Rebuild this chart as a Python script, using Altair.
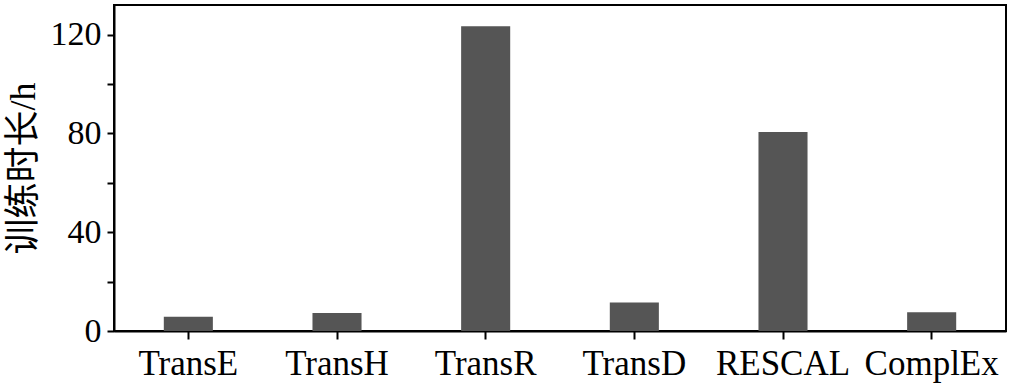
import altair as alt
import pandas as pd

models = ["TransE", "TransH", "TransR", "TransD", "RESCAL", "ComplEx"]
hours = [5.8, 7.3, 123.4, 11.5, 80.6, 7.6]

df = pd.DataFrame({"model": models, "hours": hours})

FONT = "Liberation Serif, Times New Roman, Noto Sans CJK SC"

chart = alt.Chart(df).mark_bar(
    color="#555555", width=alt.RelativeBandSize(0.33)
).encode(
    x=alt.X("model:N", sort=models, title=None,
            scale=alt.Scale(paddingInner=0, paddingOuter=0),
            axis=alt.Axis(labelAngle=0, labelFont=FONT, labelFontSize=35,
                          labelColor="black", tickColor="black", tickSize=8,
                          tickWidth=2, domainColor="black", domainWidth=2,
                          labelPadding=7)),
    y=alt.Y("hours:Q", title="训练时长/h",
            scale=alt.Scale(domain=[0, 132], nice=False),
            axis=alt.Axis(values=[0, 20, 40, 60, 80, 100, 120],
                          labelExpr="datum.value % 40 == 0 ? datum.label : ''",
                          grid=False, labelFont=FONT, labelFontSize=34,
                          labelColor="black", tickColor="black", tickSize=7,
                          tickWidth=2, domainColor="black", domainWidth=2,
                          labelPadding=6, titleFont=FONT, titleFontSize=36,
                          titleFontWeight="normal", titleColor="black",
                          titlePadding=8)),
).properties(
    width=892, height=326,
    autosize=alt.AutoSizeParams(type="none"),
    padding={"left": 114, "top": 5, "right": 7, "bottom": 59},
).configure_view(
    stroke="black", strokeWidth=2
)

chart.save("out.html", embed_options={"renderer": "svg", "actions": False})
